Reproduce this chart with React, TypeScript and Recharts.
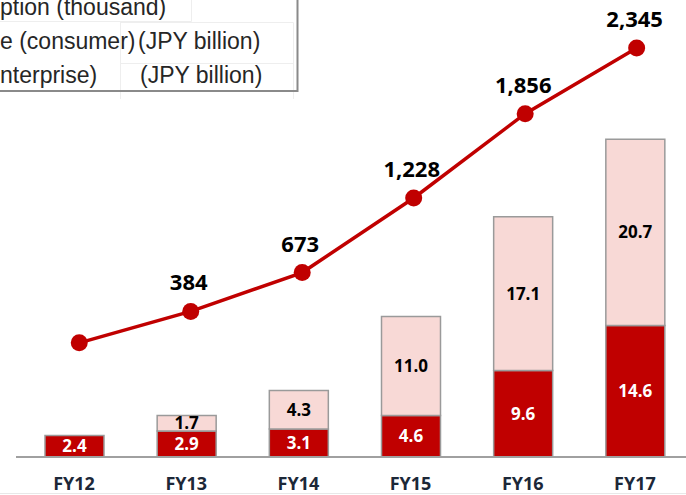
import { ComposedChart, Bar, Line, XAxis, YAxis, LabelList } from 'recharts';

const years = ['FY12', 'FY13', 'FY14', 'FY15', 'FY16', 'FY17'];
const consumer = [2.4, 2.9, 3.1, 4.6, 9.6, 14.6];
const enterprise = [0, 1.7, 4.3, 11.0, 17.1, 20.7];
const subscriptions = [150, 384, 673, 1228, 1856, 2345];

const RED = '#C00000';
const PINK = '#F8D9D6';
const FONT = '"Open Sans", "DejaVu Sans", sans-serif';

const data = years.map((y, i) => ({
  year: y,
  consumer: consumer[i],
  enterprise: enterprise[i],
  subs: subscriptions[i],
}));

/* ── bar segment labels ─────────────────────────────── */
const fmtBar = (v: any) => (v ? Number(v).toFixed(1) : '');

function SubsLabel(p: any) {
  // first point carries no label in the original
  if (p.index === 0) return null;
  return (
    <text
      x={p.x - 2}
      y={p.y - 21}
      textAnchor="middle"
      fontFamily={FONT}
      fontWeight={700}
      fontSize={22}
      fill="#000"
    >
      {Number(p.value).toLocaleString('en-US')}
    </text>
  );
}

function YearTick(p: any) {
  return (
    <text
      x={p.x}
      y={p.y + 33}
      textAnchor="middle"
      fontFamily={FONT}
      fontWeight={700}
      fontSize={18}
      fill="#1c2838"
    >
      {p.payload.value}
    </text>
  );
}

/* ── cropped legend table ───────────────────────────── */
function LegendBox() {
  const txt = { fontFamily: '"Liberation Sans", Arial, sans-serif', fontSize: 23, fill: '#262626' };
  return (
    <svg width={320} height={110} style={{ position: 'absolute', left: 0, top: 0 }}>
      <g stroke="#eeeeee" strokeWidth={1} fill="none">
        <path d="M0 21.5H191.5V0" />
        <path d="M120.5 22V99M120.5 22.5H293.5V99M120.5 63.5H293.5" />
      </g>
      <path d="M0 91H297.5V0" stroke="#8a8a8a" strokeWidth={2} fill="none" />
      <text x={0} y={15} {...txt}>ption (thousand)</text>
      <text x={0} y={49} {...txt}>e (consumer)</text>
      <text x={138} y={49} {...txt}>(JPY billion)</text>
      <text x={0} y={83} {...txt}>nterprise)</text>
      <text x={140} y={83} {...txt}>(JPY billion)</text>
    </svg>
  );
}

export default function App() {
  return (
    <div style={{ position: 'relative', width: 686, height: 495, overflow: 'hidden', background: '#fff' }}>
      <style>{'body{margin:0}'}</style>
      <ComposedChart
        width={700}
        height={495}
        data={data}
        margin={{ top: 7, right: 5, bottom: 0, left: 16 }}
      >
        <XAxis
          dataKey="year"
          padding={{ left: 2, right: 4 }}
          height={38}
          axisLine={{ stroke: '#a0a0a0', strokeWidth: 2 }}
          tickLine={false}
          tickSize={0}
          tickMargin={0}
          tick={<YearTick />}
          interval={0}
        />
        <XAxis xAxisId="line" dataKey="year" hide padding={{ left: 7.5, right: 2.6 }} />
        <YAxis yAxisId="left" hide domain={[0, 50]} />
        <YAxis yAxisId="right" hide orientation="right" domain={[-700, 2650]} />
        <Bar
          yAxisId="left"
          dataKey="consumer"
          stackId="rev"
          fill={RED}
          stroke="#9a9a9a"
          strokeWidth={1.5}
          barSize={59}
          isAnimationActive={false}
        >
          <LabelList
            dataKey="consumer"
            position="center"
            formatter={fmtBar}
            fill="#fff"
            fontFamily={FONT}
            fontWeight={700}
            fontSize={17}
          />
        </Bar>
        <Bar
          yAxisId="left"
          dataKey="enterprise"
          stackId="rev"
          fill={PINK}
          stroke="#9a9a9a"
          strokeWidth={1.5}
          barSize={59}
          isAnimationActive={false}
        >
          <LabelList
            dataKey="enterprise"
            position="center"
            formatter={fmtBar}
            fill="#000"
            fontFamily={FONT}
            fontWeight={700}
            fontSize={17}
          />
        </Bar>
        <Line
          xAxisId="line"
          yAxisId="right"
          dataKey="subs"
          type="linear"
          stroke={RED}
          strokeWidth={3.5}
          dot={{ r: 8.5, fill: RED, stroke: RED, strokeWidth: 0 }}
          isAnimationActive={false}
        >
          <LabelList dataKey="subs" content={<SubsLabel />} />
        </Line>
      </ComposedChart>
      <LegendBox />
      <div style={{ position: 'absolute', left: 0, top: 493, width: 686, height: 1, background: '#e8e8e8' }} />
    </div>
  );
}
